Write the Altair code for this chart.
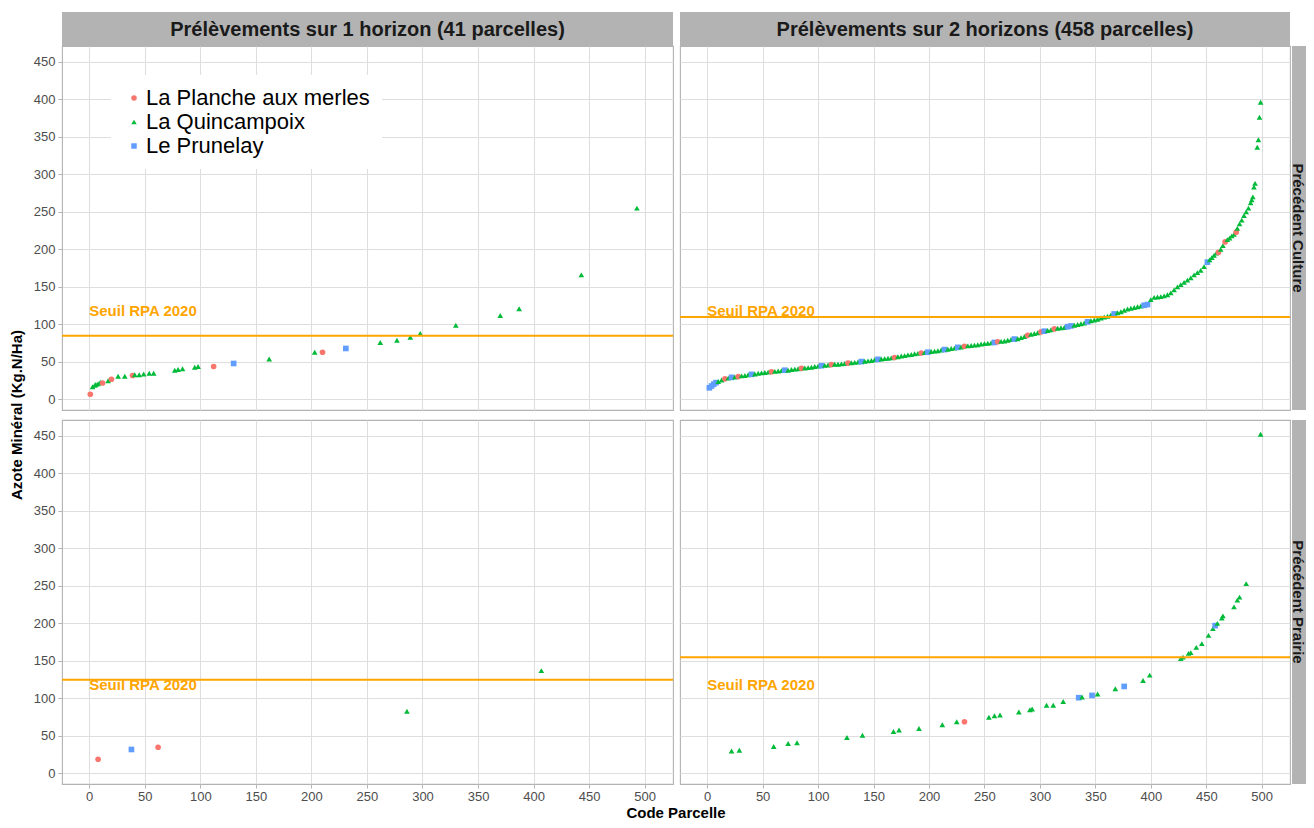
import altair as alt
import pandas as pd

# ---------------- data ----------------
SITES = ["La Planche aux merles", "La Quincampoix", "Le Prunelay"]
SITE_COLORS = ["#F8766D", "#00BA38", "#619CFF"]
SITE_SHAPES = ["circle", "triangle-up", "square"]
CODE = {"P": SITES[0], "Q": SITES[1], "R": SITES[2]}

col_titles = ["Prélèvements sur 1 horizon (41 parcelles)",
              "Prélèvements sur 2 horizons (458 parcelles)"]
row_titles = ["Précédent Culture", "Précédent Prairie"]
seuil_label = "Seuil RPA 2020"
seuils = [85, 110, 125, 155]   # TL, TR, BL, BR

x_ticks = [0, 25, 50, 75, 100, 125, 150, 175, 200, 225, 250, 275, 300, 325,
           350, 375, 400, 425, 450, 475, 500, 525]
y_ticks = [0, 25, 50, 75, 100, 125, 150, 175, 200, 225, 250, 275, 300, 325,
           350, 375, 400, 425, 450]

# 1 horizon - Culture
tl_x = [1, 3, 5, 6, 8, 10, 12, 17, 20, 26,
        32, 39, 41, 45, 49, 54, 58, 77, 80, 84,
        95, 98, 112, 130, 162, 203, 210, 231, 262, 277,
        289, 298, 330, 370, 387, 443, 493]
tl_y = [7, 17, 19, 20, 21, 23, 22, 25, 27, 31,
        31, 32, 33, 33, 34, 35, 35, 39, 40, 41,
        43, 44, 44, 48, 54, 63, 63, 68, 76, 79,
        83, 88, 99, 112, 121, 166, 255]
tl_s = ["P", "Q", "Q", "Q", "Q", "Q", "P", "Q", "P", "Q",
        "Q", "P", "Q", "Q", "Q", "Q", "Q", "Q", "Q", "Q",
        "Q", "Q", "P", "R", "Q", "Q", "P", "R", "Q", "Q",
        "Q", "Q", "Q", "Q", "Q", "Q", "Q"]

# 2 horizons - Culture
tr_x = [2, 4, 6, 8, 10, 13, 16, 19, 22, 25,
        28, 31, 34, 37, 40, 43, 46, 49, 52, 55,
        58, 61, 64, 67, 70, 73, 76, 79, 82, 85,
        88, 91, 94, 97, 100, 103, 106, 109, 112, 115,
        118, 121, 124, 127, 130, 133, 136, 139, 142, 145,
        148, 151, 154, 157, 160, 163, 166, 169, 172, 175,
        178, 181, 184, 187, 190, 193, 196, 199, 202, 205,
        208, 211, 214, 217, 220, 223, 226, 229, 232, 235,
        238, 241, 244, 247, 250, 253, 256, 259, 262, 265,
        268, 271, 274, 277, 280, 283, 286, 289, 292, 295,
        298, 301, 304, 307, 310, 313, 316, 319, 322, 325,
        328, 331, 334, 337, 340, 343, 346, 349, 352, 355,
        358, 361, 364, 367, 370, 373, 376, 379, 382, 385,
        388, 391, 394, 397, 400, 403, 406, 409, 412, 415,
        418, 421, 424, 427, 430, 433, 436, 439, 442, 445,
        448, 451, 453, 455, 457, 459, 461, 463, 465, 467,
        469, 471, 473, 475, 477, 478, 480, 482, 484, 486,
        488, 490, 491, 492, 493, 494, 496, 497, 498, 499]
tr_y = [15.6, 18, 20.5, 22.5, 24, 26, 27.5, 28.5, 29.5, 30,
        30.5, 31.5, 32, 33, 33.5, 34, 35, 35.5, 36, 36.5,
        37, 37.5, 38, 38.5, 39, 39, 40, 40.5, 41, 41.5,
        42, 42.5, 43, 44, 44.5, 45, 45.5, 46, 46.5, 47,
        47, 47.5, 48, 48.5, 49, 49.5, 50, 50.5, 51, 51.5,
        52, 53, 53.5, 54, 54.5, 55, 55.5, 56, 57, 58,
        58.5, 59.5, 60, 61, 61.5, 62, 62.5, 63, 64, 64.5,
        65, 66, 66.5, 67, 68, 68.5, 69.5, 70, 71, 71.5,
        72, 72.5, 73, 74, 74.5, 75, 75.5, 76, 77, 77.5,
        78, 79, 80, 80.5, 81, 82.5, 84, 85.5, 87, 88,
        89, 90, 91, 92, 93, 94, 95, 95.5, 96, 97,
        98, 99, 100, 101, 102, 103.5, 105, 106, 107, 108.5,
        110, 111, 112.5, 114, 115.5, 117, 119, 120.5, 121.5, 122.5,
        123.5, 124.5, 125.5, 126.5, 133, 136, 136.5, 137, 138, 139.5,
        142, 146, 150, 153, 156, 159, 162, 166, 169, 172,
        177, 183, 186, 189, 192, 195, 196, 200, 205, 210,
        213, 215, 218, 220, 223, 228, 234, 239, 245, 250,
        255, 262, 266, 270, 283, 288, 336, 346, 376, 396]
tr_s = ["R", "R", "R", "R", "Q", "Q", "P", "Q", "R", "Q",
        "P", "Q", "Q", "Q", "R", "Q", "Q", "Q", "Q", "Q",
        "P", "Q", "Q", "Q", "R", "Q", "Q", "Q", "Q", "P",
        "Q", "Q", "Q", "Q", "Q", "R", "Q", "Q", "P", "Q",
        "Q", "Q", "Q", "P", "Q", "Q", "Q", "R", "Q", "Q",
        "Q", "Q", "R", "Q", "Q", "Q", "Q", "P", "Q", "Q",
        "Q", "Q", "Q", "Q", "Q", "P", "Q", "R", "Q", "Q",
        "Q", "Q", "R", "Q", "Q", "Q", "R", "Q", "P", "Q",
        "Q", "Q", "Q", "Q", "Q", "Q", "Q", "R", "P", "Q",
        "Q", "Q", "Q", "R", "Q", "Q", "Q", "P", "Q", "Q",
        "Q", "P", "R", "Q", "Q", "P", "Q", "Q", "Q", "R",
        "R", "Q", "Q", "Q", "Q", "R", "Q", "Q", "Q", "Q",
        "Q", "Q", "Q", "R", "Q", "Q", "Q", "Q", "Q", "Q",
        "Q", "Q", "R", "R", "Q", "Q", "Q", "Q", "Q", "Q",
        "Q", "Q", "Q", "Q", "Q", "Q", "Q", "Q", "Q", "Q",
        "Q", "R", "Q", "Q", "Q", "Q", "P", "Q", "Q", "P",
        "Q", "Q", "Q", "Q", "P", "Q", "Q", "Q", "Q", "Q",
        "Q", "Q", "Q", "Q", "Q", "Q", "Q", "Q", "Q", "Q"]

# 1 horizon - Prairie
bl_x = [8, 38, 62, 286, 407]
bl_y = [19, 32, 35, 83, 137]
bl_s = ["P", "R", "P", "Q", "Q"]

# 2 horizons - Prairie
br_x = [22, 29, 60, 73, 81, 126, 140, 168, 173, 191,
        212, 225, 232, 254, 259, 264, 281, 291, 293, 306,
        312, 321, 335, 338, 347, 352, 368, 376, 393, 399,
        427, 429, 434, 436, 441, 446, 452, 456, 458, 460,
        464, 465, 475, 478, 480, 486, 499]
br_y = [30, 31, 36, 40, 41, 48, 51, 56, 58, 60,
        65, 69, 69, 75, 77, 78, 82, 85, 86, 91,
        91, 96, 101, 102, 104, 106, 113, 116, 124, 131,
        153, 155, 160, 161, 168, 173, 184, 193, 197, 200,
        207, 210, 222, 231, 235, 253, 452]
br_s = ["Q", "Q", "Q", "Q", "Q", "Q", "Q", "Q", "Q", "Q",
        "Q", "Q", "P", "Q", "Q", "Q", "Q", "Q", "Q", "Q",
        "Q", "Q", "R", "Q", "R", "Q", "Q", "R", "Q", "Q",
        "Q", "Q", "Q", "Q", "Q", "Q", "Q", "Q", "R", "Q",
        "Q", "Q", "Q", "Q", "Q", "Q", "Q"]

# ---------------- styling ----------------
FONT = "Liberation Sans"
X_DOMAIN = [-24.5, 525.5]
Y_DOMAIN = [-14, 471]
MINOR = "datum.value % 50 !== 0"
GRID_W = {"condition": {"test": MINOR, "value": 0.55}, "value": 1.1}
TICK_OP = {"condition": {"test": MINOR, "value": 0}, "value": 1}
LABEL_EXPR = "datum.value % 50 === 0 ? datum.label : ''"

legend = alt.Legend(orient="none", legendX=49, legendY=29, title=None,
                    fillColor="white", padding=12, labelFontSize=22,
                    labelColor="black", labelFont=FONT, symbolSize=30,
                    rowPadding=2, labelOffset=1, labelLimit=400,
                    symbolStrokeWidth=0)


def make_axis(values, show, pad):
    if show:
        return alt.Axis(values=values, labelExpr=LABEL_EXPR, title=None,
                        domain=False, tickOpacity=TICK_OP, gridWidth=GRID_W,
                        gridColor="#DEDEDE", tickColor="#B3B3B3", tickSize=4,
                        labelPadding=pad, labelColor="#4D4D4D", labelFontSize=13,
                        labelFont=FONT)
    return alt.Axis(values=values, labels=False, ticks=False, title=None,
                    domain=False, gridWidth=GRID_W, gridColor="#DEDEDE")


def panel(xs, ys, ss, seuil, show_x, show_y, w, h,
          col_title=None, row_title=None, extra=None):
    df = pd.DataFrame({"code": xs, "azote": ys,
                       "site": [CODE[c] for c in ss]})
    xenc = alt.X("code:Q", scale=alt.Scale(domain=X_DOMAIN, nice=False, zero=False),
                 axis=make_axis(x_ticks, show_x, 2))
    yenc = alt.Y("azote:Q", scale=alt.Scale(domain=Y_DOMAIN, nice=False, zero=False),
                 axis=make_axis(y_ticks, show_y, 3))
    pts = alt.Chart(df).mark_point(filled=True, size=32, opacity=1).encode(
        x=xenc, y=yenc,
        color=alt.Color("site:N", scale=alt.Scale(domain=SITES, range=SITE_COLORS), legend=legend),
        shape=alt.Shape("site:N", scale=alt.Scale(domain=SITES, range=SITE_SHAPES), legend=legend),
    )
    rule = alt.Chart(pd.DataFrame({"azote": [seuil]})).mark_rule(
        color="#FFA500", strokeWidth=2).encode(y="azote:Q")
    lab = alt.Chart(pd.DataFrame({"code": [0], "azote": [117.5], "t": [seuil_label]})).mark_text(
        align="left", baseline="middle", color="#FFA500", fontWeight="bold",
        fontSize=15, font=FONT).encode(x="code:Q", y="azote:Q", text="t:N")
    layers = [pts, rule, lab]
    if col_title is not None:
        d = pd.DataFrame({"t": [col_title]})
        layers.append(alt.Chart(d).mark_rect(color="#B3B3B3").encode(
            x=alt.value(0), x2=alt.value(w), y=alt.value(-34), y2=alt.value(0)))
        layers.append(alt.Chart(d).mark_text(fontSize=20, fontWeight="bold", color="#1A1A1A",
                                             font=FONT, baseline="middle").encode(
            x=alt.value(w / 2), y=alt.value(-16), text="t:N"))
    if row_title is not None:
        d = pd.DataFrame({"t": [row_title]})
        layers.append(alt.Chart(d).mark_rect(color="#B3B3B3").encode(
            x=alt.value(w + 2), x2=alt.value(w + 40), y=alt.value(0), y2=alt.value(h)))
        layers.append(alt.Chart(d).mark_text(fontSize=15, fontWeight="bold", color="#1A1A1A",
                                             font=FONT, angle=90, baseline="middle").encode(
            x=alt.value(w + 8), y=alt.value(h / 2), text="t:N"))
    if extra:
        layers.extend(extra)
    return alt.layer(*layers).properties(width=w, height=h)


W_L, W_R, H = 611, 610, 364

ytitle = alt.Chart(pd.DataFrame({"t": ["Azote Minéral (Kg.N/Ha)"]})).mark_text(
    fontSize=15, fontWeight="bold", color="black", font=FONT, angle=270,
    baseline="middle").encode(x=alt.value(-45), y=alt.value(369), text="t:N")
xtitle = alt.Chart(pd.DataFrame({"t": ["Code Parcelle"]})).mark_text(
    fontSize=15, fontWeight="bold", color="black", font=FONT,
    baseline="middle").encode(x=alt.value(614), y=alt.value(H + 29), text="t:N")

TL = panel(tl_x, tl_y, tl_s, seuils[0], False, True, W_L, H, col_title=col_titles[0],
           extra=[ytitle])
TR = panel(tr_x, tr_y, tr_s, seuils[1], False, False, W_R, H, col_title=col_titles[1],
           row_title=row_titles[0])
BL = panel(bl_x, bl_y, bl_s, seuils[2], True, True, W_L, H, extra=[xtitle])
BR = panel(br_x, br_y, br_s, seuils[3], True, False, W_R, H, row_title=row_titles[1])

chart = alt.concat(TL, TR, BL, BR, columns=2, spacing={"row": 10, "column": 7},
                   bounds="flush").properties(
    autosize=alt.AutoSizeParams(type="none"),
    padding={"left": 54, "top": 38, "right": 1244, "bottom": 774}
).configure(font=FONT).configure_view(stroke="#B3B3B3", strokeWidth=1.1)

chart.save("out.html", embed_options={"renderer": "svg", "actions": False})
